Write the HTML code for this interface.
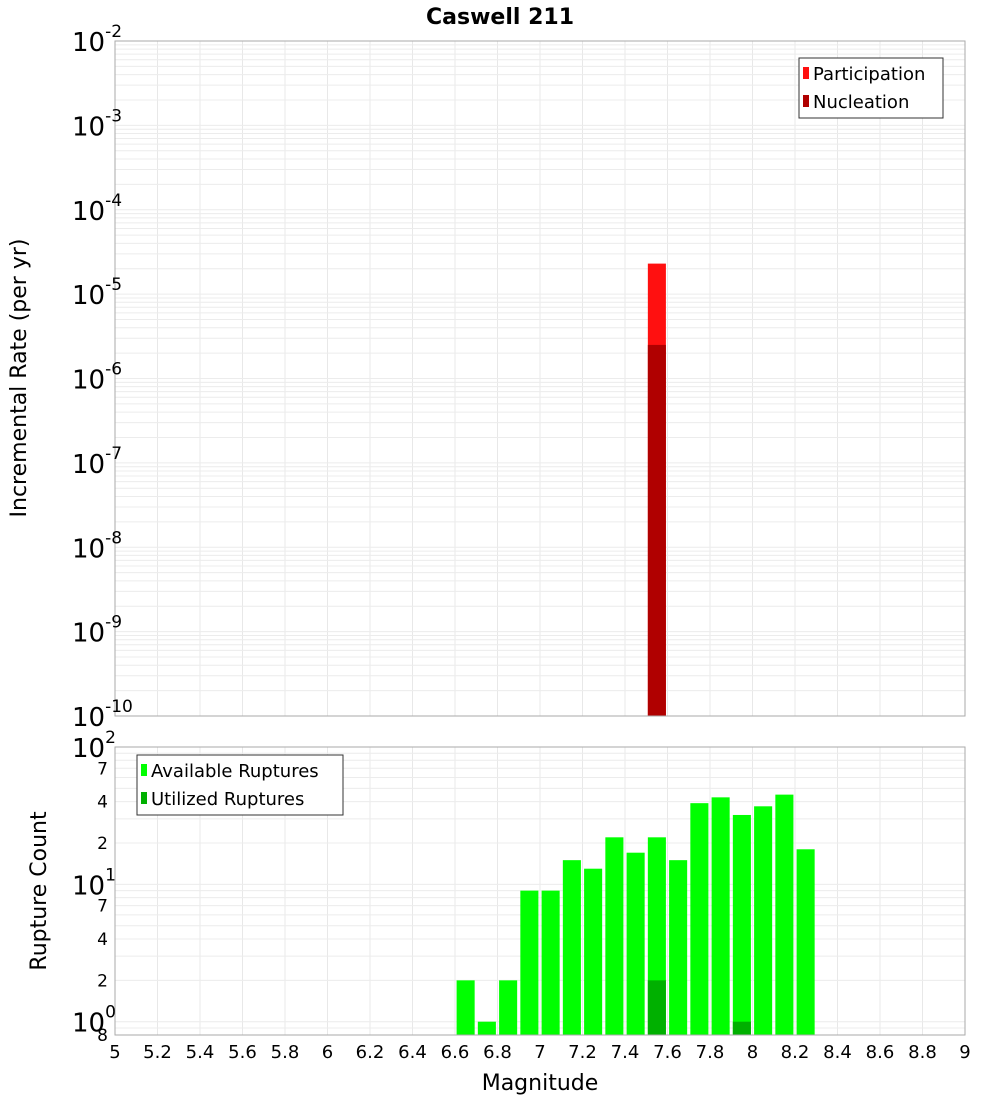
<!DOCTYPE html>
<html><head><meta charset="utf-8"><style>
body{margin:0;background:#fff;font-family:"DejaVu Sans","Liberation Sans",sans-serif}
svg{display:block}
</style></head><body>
<svg id="c" width="1000" height="1100" xmlns="http://www.w3.org/2000/svg">
<text x="500" y="24" text-anchor="middle" font-size="22" font-weight="bold">Caswell 211</text>
<text transform="translate(26,378) rotate(-90)" text-anchor="middle" font-size="22">Incremental Rate (per yr)</text>
<text transform="translate(46,891) rotate(-90)" text-anchor="middle" font-size="22">Rupture Count</text>
<text x="540" y="1090" text-anchor="middle" font-size="22">Magnitude</text>
<g id="topg"></g><g id="botg"></g>
</svg>
<script>
const partMags=[7.55];
const partRates=[2.3e-5];
const nuclMags=[7.55];
const nuclRates=[2.5e-6];
const availMags=[6.65,6.75,6.85,6.95,7.05,7.15,7.25,7.35,7.45,7.55,7.65,7.75,7.85,7.95,8.05,8.15,8.25];
const availCounts=[2,1,2,9,9,15,13,22,17,22,15,39,43,32,37,45,18];
const utilMags=[7.55,7.95];
const utilCounts=[2,1];
const xTicks=[5,5.2,5.4,5.6,5.8,6,6.2,6.4,6.6,6.8,7,7.2,7.4,7.6,7.8,8,8.2,8.4,8.6,8.8,9];

const NS="http://www.w3.org/2000/svg";
const X0=115,X1=965;
const xs=m=>X0+(m-5)/4*(X1-X0);
const T0=41,T1=716; const ty=v=>T0+(-2-Math.log10(v))/8*(T1-T0);
const B0=747,B1=1035; const by=v=>B0+(2-Math.log10(v))/(2-Math.log10(0.8))*(B1-B0);
function el(p,t,a,txt){const e=document.createElementNS(NS,t);for(const k in a)e.setAttribute(k,a[k]);if(txt!==undefined)e.textContent=txt;p.appendChild(e);return e;}
const gTop=document.getElementById('topg'),gBot=document.getElementById('botg');

for(const [g,y0,y1] of [[gTop,T0,T1],[gBot,B0,B1]]){
  el(g,'rect',{x:X0,y:y0,width:X1-X0,height:y1-y0,fill:'#fff'});
  for(const t of xTicks){const l=el(g,'line',{x1:xs(t),x2:xs(t),y1:y0,y2:y1,stroke:'#e8e8e8'});
  
  }
}
for(let d=-10;d<-2;d++)for(let k=1;k<10;k++){const y=ty(k*Math.pow(10,d));const l=el(gTop,'line',{x1:X0,x2:X1,y1:y,y2:y,stroke:'#ececec'});

}
for(let d=-1;d<2;d++)for(let k=1;k<10;k++){const v=k*Math.pow(10,d);if(v<0.8)continue;const y=by(v);const l=el(gBot,'line',{x1:X0,x2:X1,y1:y,y2:y,stroke:'#ececec'});

}

const bw=0.085*(X1-X0)/4;
partMags.forEach((m,i)=>{const r=el(gTop,'rect',{x:xs(m)-bw/2,y:ty(partRates[i]),width:bw,height:T1-ty(partRates[i]),fill:'#ff1010'});

});
nuclMags.forEach((m,i)=>{const r=el(gTop,'rect',{x:xs(m)-bw/2,y:ty(nuclRates[i]),width:bw,height:T1-ty(nuclRates[i]),fill:'#b00000'});

});
availMags.forEach((m,i)=>{const y=by(availCounts[i]);const r=el(gBot,'rect',{x:xs(m)-bw/2,y:y,width:bw,height:B1-y,fill:'#00ff00'});

});
utilMags.forEach((m,i)=>{const y=by(utilCounts[i]);const r=el(gBot,'rect',{x:xs(m)-bw/2,y:y,width:bw,height:B1-y,fill:'#00b000'});

});

for(const [g,y0,y1] of [[gTop,T0,T1],[gBot,B0,B1]]) el(g,'rect',{x:X0,y:y0,width:X1-X0,height:y1-y0,fill:'none',stroke:'#aaa'});

for(let d=-10;d<=-2;d++){const y=ty(Math.pow(10,d));const t=el(gTop,'text',{x:72,y:y+10,'font-size':26});
 
 
 t.appendChild(document.createTextNode('10'));el(t,'tspan',{dy:-14,'font-size':17},String(d));}
const bMajor=[1,10,100],bExp=['0','1','2'];
bMajor.forEach((v,i)=>{const y=by(v);const t=el(gBot,'text',{x:72,y:y+10,'font-size':26});
 
 
 t.appendChild(document.createTextNode('10'));el(t,'tspan',{dy:-14,'font-size':17},bExp[i]);});
const bMinor=[2,4,7,20,40,70,0.8],bMinorLbl=['2','4','7','2','4','7','8'];
bMinor.forEach((v,i)=>{const y=by(v);const t=el(gBot,'text',{x:108,y:y+6,'font-size':17,'text-anchor':'end'},bMinorLbl[i]);
 
 });
xTicks.forEach(t=>{const e=el(gBot,'text',{x:xs(t),y:1058,'font-size':18,'text-anchor':'middle'},String(t));
 
 });

function legend(g,x,y,w,items,name){const lg=el(g,'g',{});
 
 
 el(lg,'rect',{x:x,y:y,width:w,height:items.length*28+4,fill:'#fff',stroke:'#333'});
 items.forEach((it,i)=>{const cy=y+16+i*28;el(lg,'rect',{x:x+4,y:cy-7,width:6,height:12,fill:it[1]});const t=el(lg,'text',{x:x+14,y:cy+6,'font-size':18},it[0]);
 
 });}
legend(gTop,799,58,144,[['Participation','#ff1010'],['Nucleation','#b00000']],'top-legend');
legend(gBot,137,755,206,[['Available Ruptures','#00ff00'],['Utilized Ruptures','#00b000']],'bottom-legend');
</script>
</body></html>
